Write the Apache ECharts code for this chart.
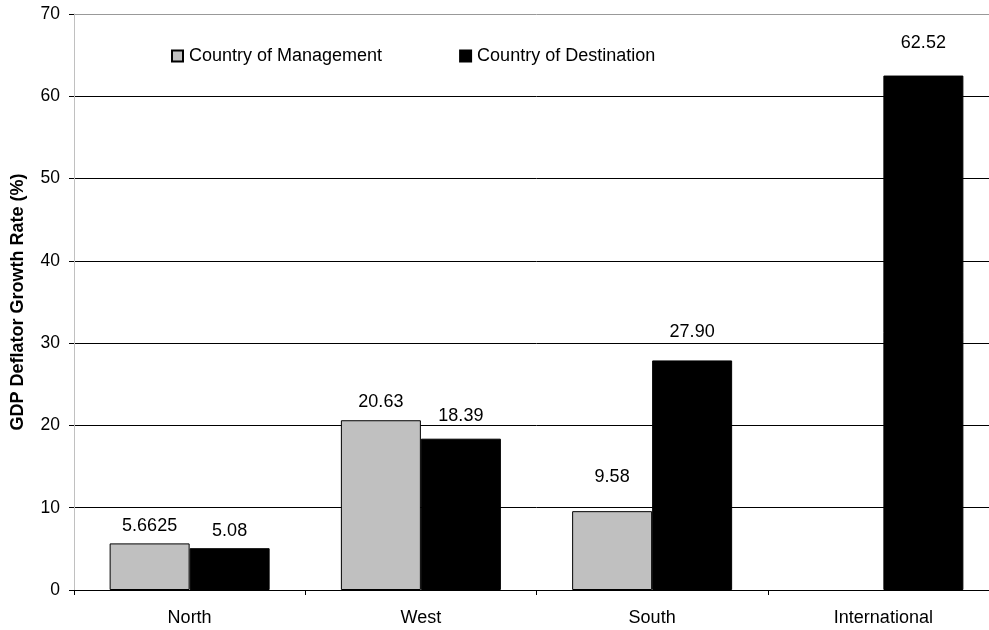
<!DOCTYPE html>
<html>
<head>
<meta charset="utf-8">
<script src="https://cdn.jsdelivr.net/npm/echarts@6/dist/echarts.min.js"></script>
<style>
  html, body { margin: 0; padding: 0; background: #fff; overflow: hidden; }
  /* the plot area runs a little past the right edge of the window */
  #chart { width: 1000px; height: 630px; }
</style>
</head>
<body>
<div id="chart"></div>
<script>
// Regions along the category axis
const regions = ['North', 'West', 'South', 'International'];

// GDP deflator growth rate (%) by how the country is assigned
const managementValues = [5.6625, 20.63, 9.58, null];
const destinationValues = [5.08, 18.39, 27.90, 62.52];

// Y axis range and step
const yMin = 0;
const yMax = 70;
const yStep = 10;

const FONT = '"Liberation Sans", Arial, sans-serif';

// Extra lift of individual value labels above their bars (px)
const managementLift = [8, 9, 25, 0];
const destinationLift = [8, 14, 19, 24];

// Show at least two decimals, keep longer values as written
function fmt(v) {
  const s = String(v);
  const dot = s.indexOf('.');
  const dec = dot < 0 ? 0 : s.length - dot - 1;
  return dec >= 2 ? s : v.toFixed(2);
}

function buildData(values, lifts) {
  return values.map((v, i) => ({
    value: v,
    label: { distance: lifts[i] }
  }));
}

const labelStyle = {
  show: true,
  position: 'top',
  color: '#000',
  fontFamily: FONT,
  fontSize: 18,
  formatter: p => (p.value == null ? '' : fmt(p.value))
};

const chart = echarts.init(document.getElementById('chart'), null, { renderer: 'canvas' });

chart.setOption({
  animation: false,
  backgroundColor: '#fff',
  grid: { left: 74, top: 14, right: 1, bottom: 40, containLabel: false },
  legend: {
    left: 166,
    top: 42,
    itemWidth: 11,
    itemHeight: 11,
    itemGap: 77,
    icon: 'rect',
    textStyle: { color: '#000', fontFamily: FONT, fontSize: 18, padding: [0, 0, 0, 1] },
    data: ['Country of Management', 'Country of Destination']
  },
  xAxis: {
    type: 'category',
    data: regions,
    axisLine: { lineStyle: { color: '#000', width: 1 } },
    axisTick: { show: true, length: 5, lineStyle: { color: '#000' } },
    axisLabel: { color: '#000', fontFamily: FONT, fontSize: 18, margin: 19 },
    splitLine: { show: false }
  },
  yAxis: {
    type: 'value',
    min: yMin,
    max: yMax,
    interval: yStep,
    name: 'GDP Deflator Growth Rate (%)',
    nameLocation: 'middle',
    nameGap: 47,
    nameTextStyle: { color: '#000', fontFamily: FONT, fontSize: 18, fontWeight: 'bold' },
    axisLine: { show: true, lineStyle: { color: '#c0c0c0', width: 1 } },
    axisTick: { show: true, length: 5, lineStyle: { color: '#000' } },
    axisLabel: { color: '#000', fontFamily: FONT, fontSize: 17.5, margin: 14 },
    splitLine: {
      show: true,
      lineStyle: {
        color: ['#000', '#000', '#000', '#000', '#000', '#000', '#000', '#999'],
        width: 1
      }
    }
  },
  series: [
    {
      name: 'Country of Management',
      type: 'bar',
      barWidth: 80,
      barGap: '0%',
      itemStyle: { color: '#c0c0c0', borderColor: '#000', borderWidth: 1 },
      label: labelStyle,
      data: buildData(managementValues, managementLift)
    },
    {
      name: 'Country of Destination',
      type: 'bar',
      barWidth: 80,
      barGap: '0%',
      itemStyle: { color: '#000', borderColor: '#000', borderWidth: 1 },
      label: labelStyle,
      data: buildData(destinationValues, destinationLift)
    }
  ]
});
</script>
</body>
</html>
